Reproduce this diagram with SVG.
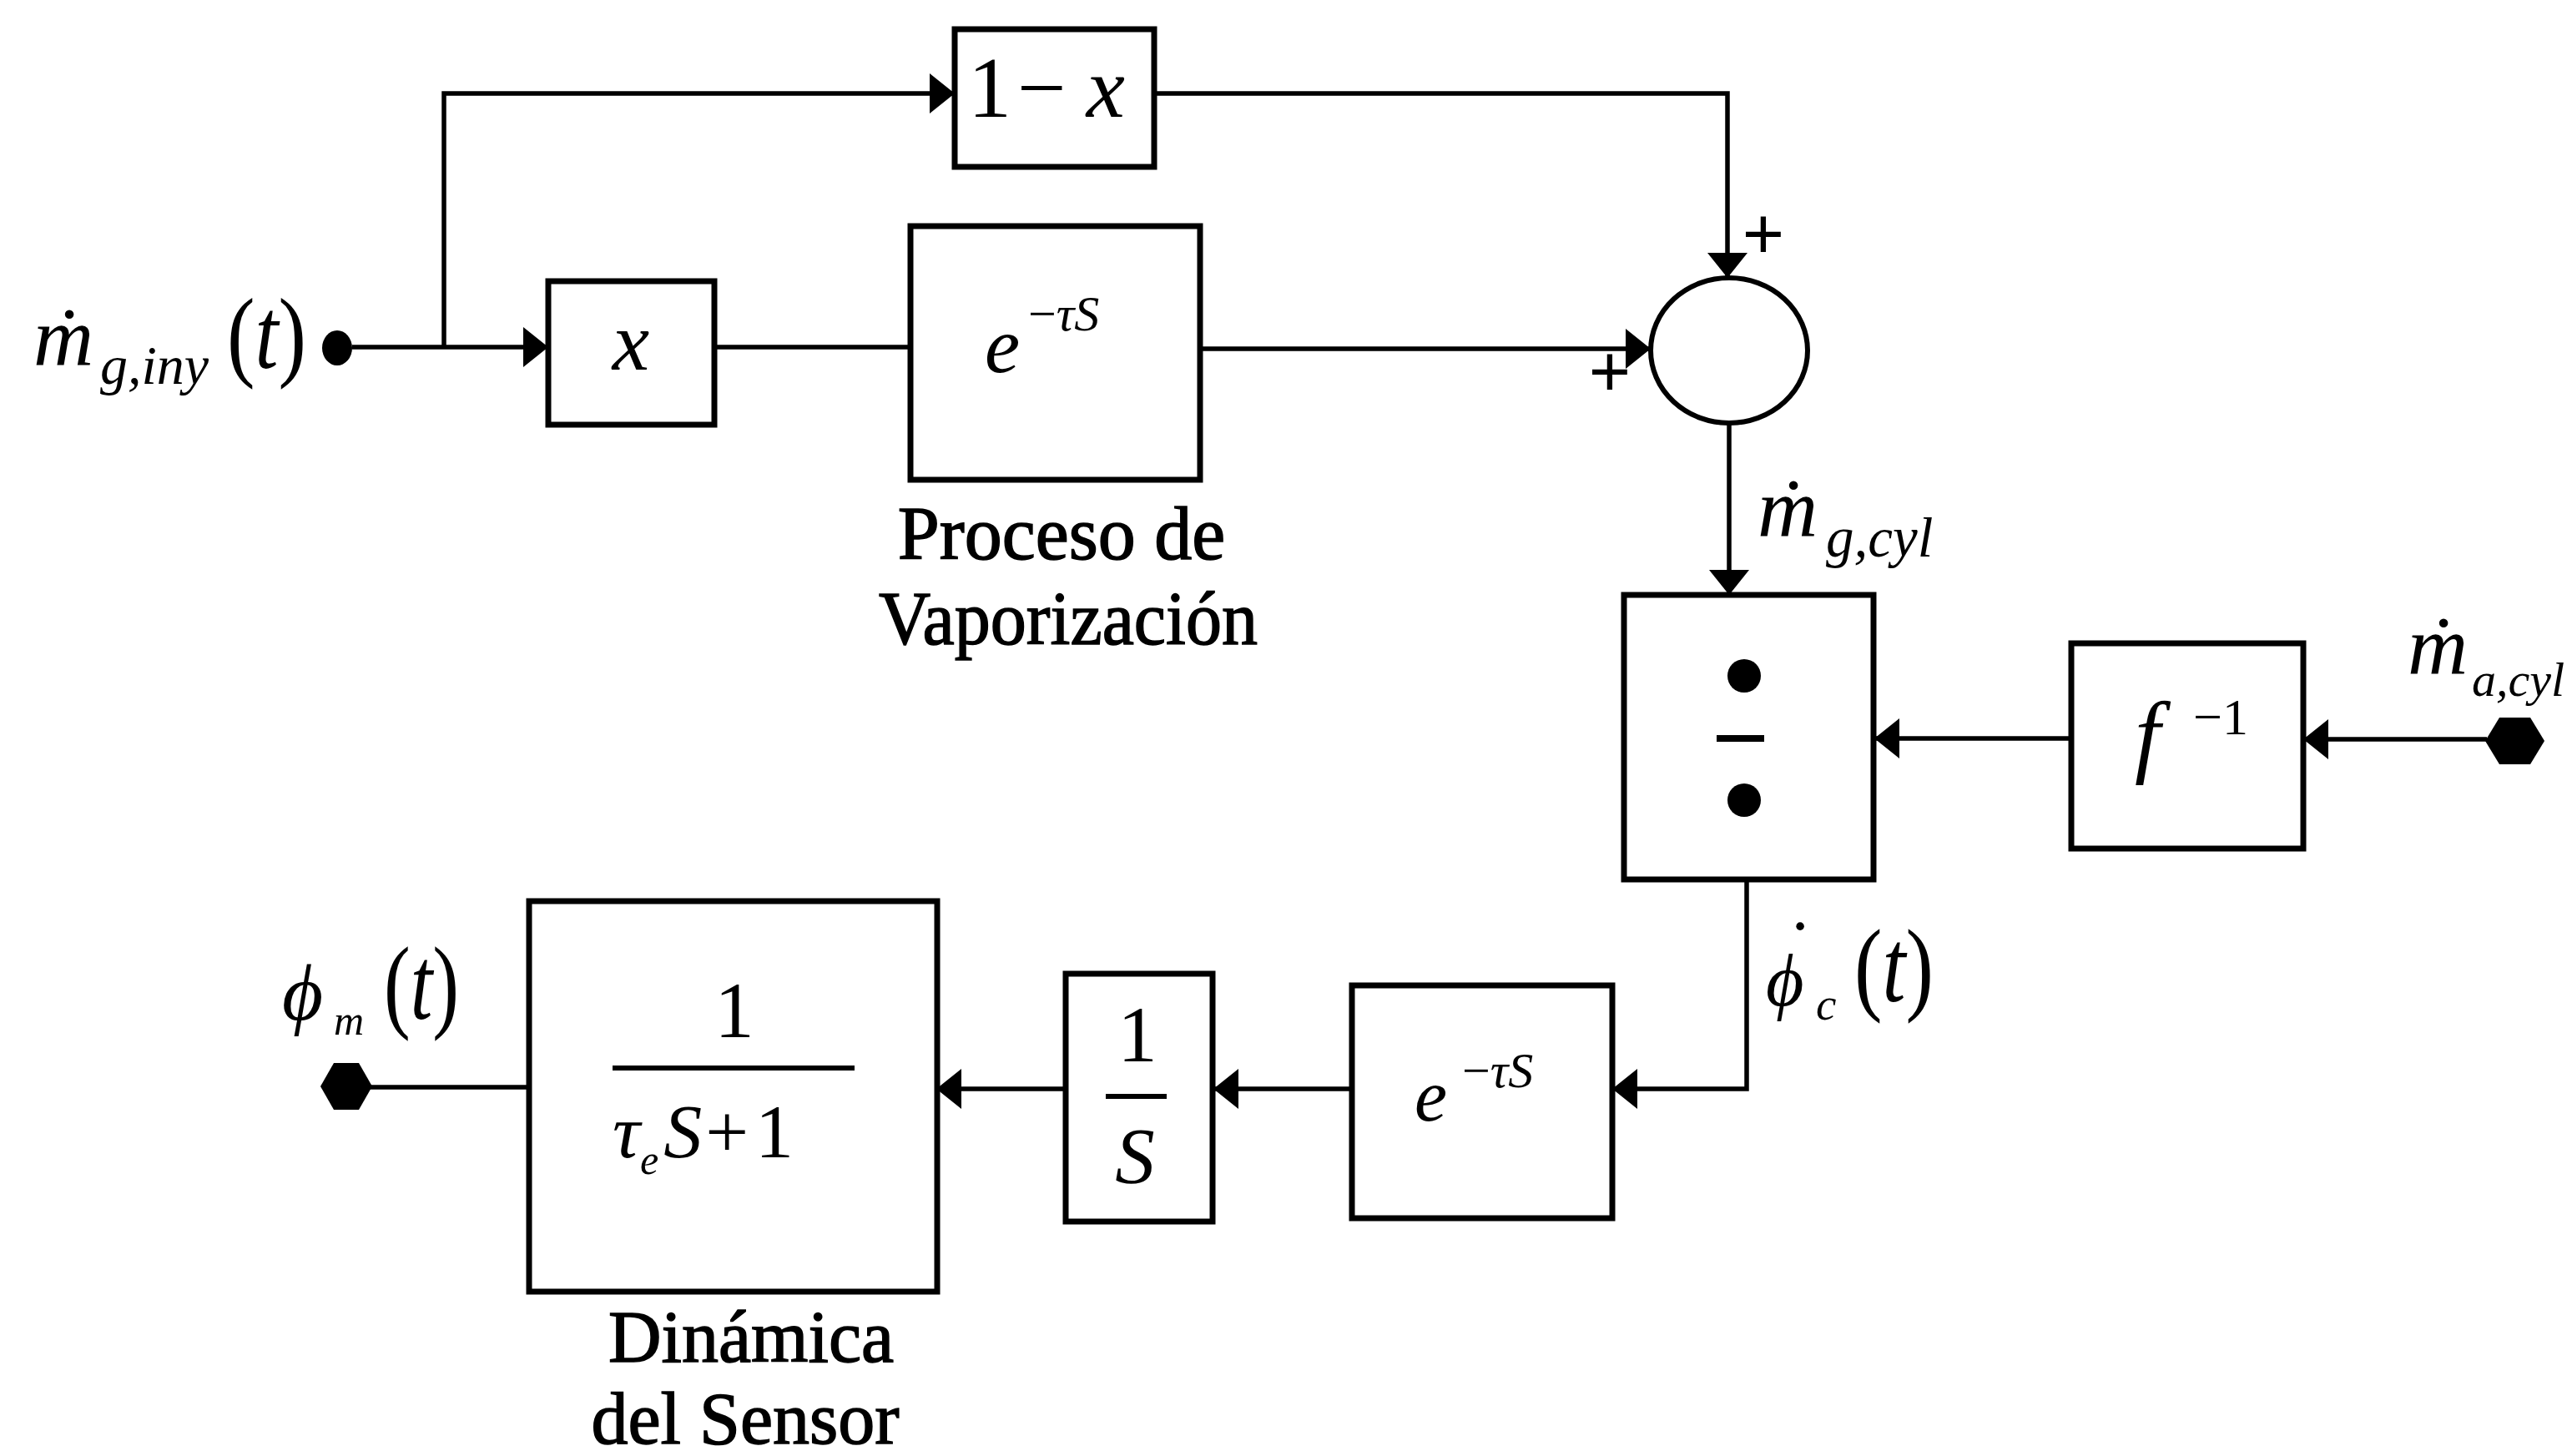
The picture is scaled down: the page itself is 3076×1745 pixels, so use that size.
<svg xmlns="http://www.w3.org/2000/svg" width="3076" height="1745" viewBox="0 0 3076 1745">
<defs>
<marker id="arr" viewBox="0 0 30 48" refX="30" refY="24" markerWidth="30" markerHeight="48" markerUnits="userSpaceOnUse" orient="auto">
<path d="M0,0 L30,24 L0,48 Z" fill="#000"/>
</marker>
<style>
.box{fill:#fff;stroke:#000;stroke-width:7}
.wire{fill:none;stroke:#000;stroke-width:5.5}
.arrow{marker-end:url(#arr)}
.m{font-family:"Liberation Serif","DejaVu Serif",serif;font-style:italic;fill:#000}
.r{font-family:"Liberation Serif","DejaVu Serif",serif;font-style:normal;fill:#000}
.up{font-style:normal}
.lbl{font-family:"Liberation Serif","DejaVu Serif",serif;fill:#000;stroke:#000;stroke-width:1.5}
.dot{fill:#000}
</style>
</defs>
<rect width="3076" height="1745" fill="#fff"/>

<g id="connectors">
<path class="wire arrow" d="M422,416 H657"/>
<path class="wire arrow" d="M532,416 V112 H1144"/>
<path class="wire" d="M856,416 H1091"/>
<path class="wire arrow" d="M1438,418 H1978"/>
<path class="wire arrow" d="M1383,112 H2070 V333"/>
<path class="wire arrow" d="M2072,508 V713"/>
<path class="wire arrow" d="M2980,886 H2760"/>
<path class="wire arrow" d="M2482,885 H2246"/>
<path class="wire arrow" d="M2093,1054 V1305 H1932"/>
<path class="wire arrow" d="M1620,1305 H1454"/>
<path class="wire arrow" d="M1277,1305 H1122"/>
<path class="wire" d="M634,1303 H440"/>
</g>

<g id="in_mg_iny">
<ellipse class="dot" cx="404" cy="417" rx="18" ry="21"/>
<text class="m" font-size="100"><tspan x="40" y="437">ṁ</tspan><tspan x="120" y="460" font-size="66">g,iny</tspan><tspan class="up" x="272" y="441" font-size="120" textLength="95" lengthAdjust="spacingAndGlyphs">(<tspan font-style="italic">t</tspan>)</tspan></text>
</g>

<g id="gain_x">
<rect class="box" x="657" y="337" width="199" height="172"/>
<text class="m" x="756" y="443" font-size="100" text-anchor="middle">x</text>
</g>

<g id="gain_1mx">
<rect class="box" x="1144" y="35" width="239" height="165"/>
<text class="r" x="1160" y="140" font-size="104">1<tspan dx="7">−</tspan><tspan dx="24" font-style="italic">x</tspan></text>
</g>

<g id="delay_vap">
<rect class="box" x="1091" y="271" width="347" height="304"/>
<text class="m" font-size="95"><tspan x="1180" y="446">e</tspan><tspan x="1232" y="396" font-size="60"><tspan class="up">−</tspan>τS</tspan></text>
<text class="lbl" x="1272" y="670" font-size="90" text-anchor="middle">Proceso de</text>
<text class="lbl" x="1280" y="772" font-size="90" text-anchor="middle" textLength="454" lengthAdjust="spacingAndGlyphs">Vaporización</text>
</g>

<g id="sum">
<ellipse cx="2072" cy="420" rx="94" ry="87" fill="#fff" stroke="#000" stroke-width="6"/>
<text class="r" x="2113" y="311" font-size="90" font-weight="bold" text-anchor="middle">+</text>
<text class="r" x="1929" y="476" font-size="90" font-weight="bold" text-anchor="middle">+</text>
</g>

<g id="lbl_mg_cyl">
<text class="m" font-size="100"><tspan x="2106" y="642">ṁ</tspan><tspan x="2188" y="667" font-size="67">g,cyl</tspan></text>
</g>

<g id="divide">
<rect class="box" x="1946" y="713" width="299" height="341"/>
<circle class="dot" cx="2090" cy="810" r="20"/>
<line x1="2057" y1="885" x2="2114" y2="885" stroke="#000" stroke-width="8"/>
<circle class="dot" cx="2090" cy="959" r="20"/>
</g>

<g id="finv">
<rect class="box" x="2482" y="771" width="278" height="246"/>
<text class="m" font-size="110"><tspan x="2558" y="918">f</tspan><tspan class="up" x="2628" y="880" font-size="62">−1</tspan></text>
</g>

<g id="in_ma_cyl">
<polygon class="dot" points="2978,888 2995,860 3032,860 3049,888 3032,916 2995,916"/>
<text class="m" font-size="100"><tspan x="2885" y="807">ṁ</tspan><tspan x="2962" y="834" font-size="58">a,cyl</tspan></text>
</g>

<g id="lbl_phic">
<text class="m" font-size="88"><tspan class="up" x="2142" y="1166" font-size="90">˙</tspan><tspan x="2116" y="1205">ϕ</tspan><tspan x="2176" y="1222" font-size="55">c</tspan><tspan class="up" x="2222" y="1200" font-size="125" textLength="95" lengthAdjust="spacingAndGlyphs">(<tspan font-style="italic">t</tspan>)</tspan></text>
</g>

<g id="delay_transport">
<rect class="box" x="1620" y="1181" width="312" height="279"/>
<text class="m" font-size="88"><tspan x="1695" y="1343">e</tspan><tspan x="1752" y="1303" font-size="60"><tspan class="up">−</tspan>τS</tspan></text>
</g>

<g id="integrator">
<rect class="box" x="1277" y="1167" width="176" height="297"/>
<text class="r" x="1363" y="1272" font-size="95" text-anchor="middle">1</text>
<line x1="1325" y1="1314" x2="1398" y2="1314" stroke="#000" stroke-width="6"/>
<text class="m" x="1360" y="1418" font-size="95" text-anchor="middle">S</text>
</g>

<g id="sensor">
<rect class="box" x="634" y="1080" width="489" height="468"/>
<text class="r" x="880" y="1243" font-size="95" text-anchor="middle">1</text>
<line x1="734" y1="1280" x2="1024" y2="1280" stroke="#000" stroke-width="6"/>
<text class="m" x="734" y="1387" font-size="92">τ<tspan font-size="50" dy="20">e</tspan><tspan dy="-20" dx="6">S</tspan><tspan font-style="normal" dx="4">+</tspan><tspan font-style="normal" dx="8">1</tspan></text>
<text class="lbl" x="900" y="1632" font-size="88" text-anchor="middle">Dinámica</text>
<text class="lbl" x="893" y="1730" font-size="88" text-anchor="middle">del Sensor</text>
</g>

<g id="out_phim">
<polygon class="dot" points="384,1302 400,1274 430,1274 446,1302 430,1330 400,1330"/>
<text class="m" font-size="95"><tspan x="338" y="1222">ϕ</tspan><tspan x="400" y="1240" font-size="50">m</tspan><tspan class="up" x="460" y="1221" font-size="125" textLength="90" lengthAdjust="spacingAndGlyphs">(<tspan font-style="italic">t</tspan>)</tspan></text>
</g>
</svg>
